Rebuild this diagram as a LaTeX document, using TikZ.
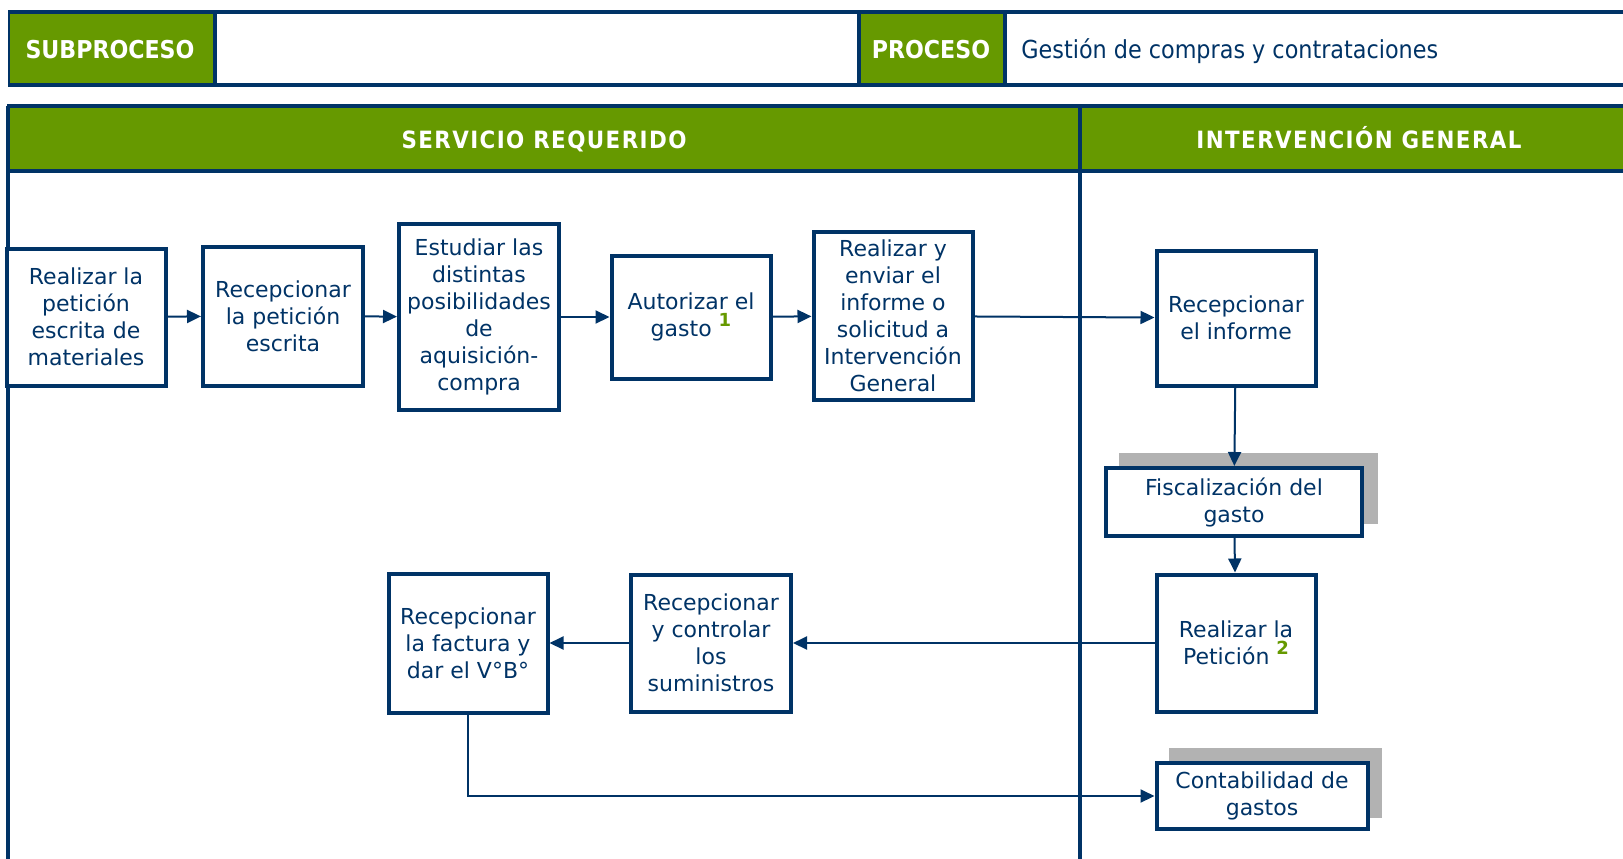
\documentclass[tikz,border=0pt]{standalone}
\usepackage{fontspec}
\setmainfont{DejaVu Sans}
\newfontfamily\condfont{DejaVu Sans Condensed}
\newfontfamily\lanefont[LetterSpace=6]{DejaVu Sans Condensed}
\usetikzlibrary{arrows.meta}
\definecolor{dblue}{HTML}{003366}
\definecolor{lgreen}{HTML}{669900}
\definecolor{shgray}{HTML}{B2B2B2}
\newcommand{\fnum}[1]{\raisebox{0.45em}{\color{lgreen}\bfseries\fontsize{9}{9}\selectfont #1}}
\begin{document}
\begin{tikzpicture}[x=0.5pt,y=-0.5pt,
  box/.style={draw=dblue,line width=2pt,fill=white,inner sep=0pt,align=center,
    text=dblue,font=\fontsize{11}{13.5}\selectfont},
  conn/.style={draw=dblue,line width=1pt,-{Triangle[length=7pt,width=6.5pt]}},
  hdr/.style={text=white,font=\condfont\bfseries\fontsize{12.3}{13}\selectfont,inner sep=0pt,anchor=base},
  lanehdr/.style={text=white,font=\lanefont\bfseries\fontsize{11.9}{13}\selectfont,inner sep=0pt,anchor=base},
  shadowbox/.style={fill=shgray,draw=none}
]
\useasboundingbox (0,0) rectangle (1623,858);
\clip (0,0) rectangle (1623,858);
% ---------- header band ----------
\fill[white] (0,0) rectangle (1623,858);
\fill[lgreen] (10,13) rectangle (215,84);
\fill[lgreen] (859,13) rectangle (1005,84);
\draw[dblue,line width=1.6pt] (215,12) -- (215,85) (859,12) -- (859,85) (1005,12) -- (1005,85);
\draw[dblue,line width=1.4pt] (9,12) -- (9,85);
\draw[dblue,line width=2.4pt] (8,12) -- (1640,12) (8,85) -- (1640,85);
\node[hdr] (sub) at (110,58) {SUBPROCESO};
\node[hdr] (proc) at (931,58) {PROCESO};
\node[anchor=base west,inner sep=0pt,text=dblue,font=\condfont\fontsize{12.4}{13}\selectfont] (procname) at (1021,58) {Gestión de compras y contrataciones};
% ---------- lanes ----------
\fill[lgreen] (8,107) rectangle (1640,170);
\draw[dblue,line width=2.4pt] (7,106) -- (1640,106) (7,171) -- (1640,171);
\draw[dblue,line width=2pt] (8,106) -- (8,870);
\draw[dblue,line width=2pt] (1080,106) -- (1080,870);
\node[lanehdr] (lane1) at (544,148) {SERVICIO REQUERIDO};
\node[lanehdr] (lane2) at (1359,148) {INTERVENCIÓN GENERAL};
% ---------- shadows ----------
\fill[shgray] (1119,453) rectangle (1378,524);
\fill[shgray] (1169,748) rectangle (1382,818);
% ---------- boxes ----------
\node[box,minimum width=79.5pt,minimum height=68.5pt] (b1) at (86,317) {Realizar la\\petición\\escrita de\\materiales};
\node[box,minimum width=80pt,minimum height=69.5pt] (b2) at (283,316) {Recepcionar\\la petición\\escrita};
\node[box,minimum width=80pt,minimum height=93pt] (b3) at (479,317) {Estudiar las\\distintas\\posibilidades\\de\\aquisición-\\compra};
\node[box,minimum width=79.5pt,minimum height=61.5pt] (b4) at (691,317) {Autorizar el\\gasto \fnum{1}};
\node[box,minimum width=79.5pt,minimum height=84pt] (b5) at (893,316) {Realizar y\\enviar el\\informe o\\solicitud a\\Intervención\\General};
\node[box,minimum width=79.5pt,minimum height=67.5pt] (b6) at (1236,318) {Recepcionar\\el informe};
\node[box,minimum width=128pt,minimum height=34pt] (b7) at (1234,502) {Fiscalización del\\gasto};
\node[box,minimum width=79.5pt,minimum height=68.5pt] (b8) at (1236,643) {Realizar la\\Petición \fnum{2}};
\node[box,minimum width=80pt,minimum height=68.5pt] (b9) at (711,643) {Recepcionar\\y controlar\\los\\suministros};
\node[box,minimum width=79.5pt,minimum height=69.5pt] (b10) at (468,643) {Recepcionar\\la factura y\\dar el V°B°};
\node[box,minimum width=105.5pt,minimum height=33pt] (b11) at (1262,796) {Contabilidad de\\gastos};
\coordinate (corner) at (b10.south |- b11.west);
% ---------- connectors ----------
\draw[conn] (b1) -- (b2);
\draw[conn] (b2) -- (b3);
\draw[conn] (b3) -- (b4);
\draw[conn] (b4) -- (b5);
\draw[conn] (b5) -- (b6);
\draw[conn] (b6) -- (b7);
\draw[conn] (b7) -- (b8);
\draw[conn] (b8) -- (b9);
\draw[conn] (b9) -- (b10);
\draw[conn] (b10.south) -- (corner) -- (b11.west);
\end{tikzpicture}
\end{document}
